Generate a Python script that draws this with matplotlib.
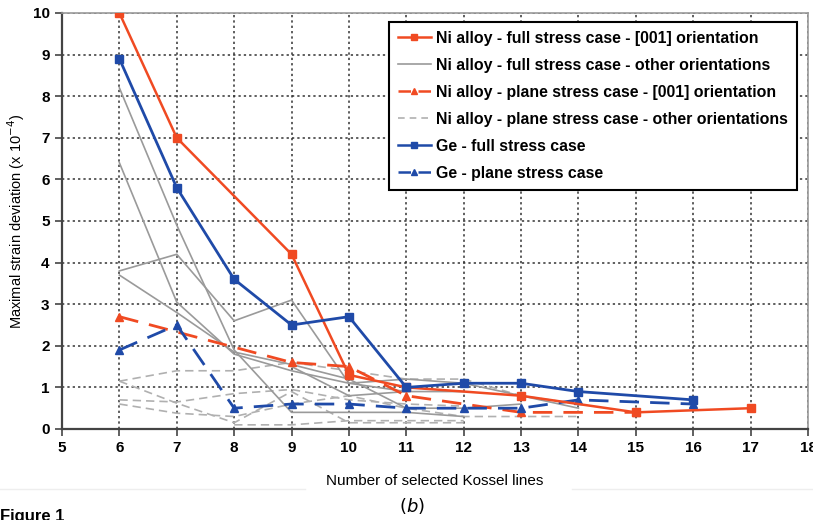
import numpy as np
import matplotlib
matplotlib.use("Agg")
import matplotlib.pyplot as plt
from matplotlib.lines import Line2D

plt.rcParams['font.family'] = ['Liberation Sans', 'DejaVu Sans']

# Ni alloy - full stress case - [001] orientation
ni_full_x = [6, 7, 9, 10, 11, 13, 15, 17]
ni_full_y = [10, 7, 4.2, 1.3, 1.0, 0.8, 0.4, 0.5]

# Ni alloy - plane stress case - [001] orientation
ni_plane_x = [6, 9, 10, 11, 13, 15]
ni_plane_y = [2.7, 1.6, 1.5, 0.8, 0.4, 0.4]

# Ge - full stress case
ge_full_x = [6, 7, 8, 9, 10, 11, 12, 13, 14, 16]
ge_full_y = [8.9, 5.8, 3.6, 2.5, 2.7, 1.0, 1.1, 1.1, 0.9, 0.7]

# Ge - plane stress case
ge_plane_x = [6, 7, 8, 9, 10, 11, 12, 13, 14, 16]
ge_plane_y = [1.9, 2.5, 0.5, 0.6, 0.6, 0.5, 0.5, 0.5, 0.7, 0.6]

# Ni alloy - full stress case - other orientations
other_full = [
    ([6, 7, 8, 9, 10, 11, 12], [8.2, 4.9, 1.9, 0.4, 0.4, 0.4, 0.3]),
    ([6, 7, 8, 9, 10, 11], [6.4, 3.05, 1.8, 1.4, 1.1, 0.9]),
    ([6, 7, 8, 9, 10, 11, 12, 13, 14], [3.8, 4.2, 2.6, 3.1, 1.1, 1.2, 1.1, 0.8, 0.5]),
    ([6, 7, 8, 9, 10, 11, 12, 13], [3.7, 2.8, 1.85, 1.55, 1.2, 0.5, 0.5, 0.6]),
    ([9, 10, 11, 12], [1.5, 0.8, 0.9, 0.9]),
]

# Ni alloy - plane stress case - other orientations
other_plane = [
    ([6, 7, 8, 9, 10, 11, 12], [1.15, 0.62, 0.15, 0.9, 0.15, 0.15, 0.15]),
    ([6, 7, 8, 9, 10, 11, 12, 13, 14], [1.15, 1.4, 1.4, 1.6, 1.4, 1.2, 1.2, 0.8, 0.6]),
    ([6, 7, 8, 9, 10, 11, 12], [0.7, 0.65, 0.85, 0.95, 0.7, 0.6, 0.55]),
    ([6, 7, 8, 9, 10, 11, 12, 13, 14], [0.6, 0.38, 0.3, 0.6, 0.8, 0.5, 0.3, 0.3, 0.3]),
    ([8, 9, 10, 11, 12], [0.1, 0.1, 0.2, 0.2, 0.2]),
]

red = '#f04a22'
blue = '#1f4aa8'
gray = '#9a9a9a'
lgray = '#b0b0b0'

fig = plt.figure(figsize=(8.13, 5.2), dpi=100)
ax = fig.add_axes([62/813, 1-429/520, (808-62)/813, (429-13)/520])

for xs, ys in other_plane:
    ax.plot(xs, ys, color=lgray, lw=1.2, dashes=(5, 3), zorder=2)
for xs, ys in other_full:
    ax.plot(xs, ys, color=gray, lw=1.2, zorder=2)

ax.plot(ni_plane_x, ni_plane_y, color=red, lw=2, dashes=(7, 4), marker='^', ms=6, zorder=3)
ax.plot(ge_plane_x, ge_plane_y, color=blue, lw=2, dashes=(7, 4), marker='^', ms=6, zorder=3)
ax.plot(ni_full_x, ni_full_y, color=red, lw=1.8, marker='s', ms=6, zorder=4)
ax.plot(ge_full_x, ge_full_y, color=blue, lw=2, marker='s', ms=6, zorder=4)

ax.set_xlim(5, 18)
ax.set_ylim(0, 10)
ax.set_xticks(range(5, 19))
ax.set_yticks(range(0, 11))
ax.grid(True, color='#333333', linestyle=(0, (1.5, 2)), linewidth=1.1)
ax.tick_params(direction='out', length=5, width=1.2, color='#444444', labelsize=11, pad=4)
for lab in ax.get_xticklabels() + ax.get_yticklabels():
    lab.set_fontweight('bold')

ax.spines['left'].set_color('#444444')
ax.spines['left'].set_linewidth(1.6)
ax.spines['bottom'].set_color('#444444')
ax.spines['bottom'].set_linewidth(1.6)
ax.spines['top'].set_color('#999999')
ax.spines['top'].set_linewidth(1.2)
ax.spines['right'].set_color('#999999')
ax.spines['right'].set_linewidth(1.2)

ax.set_xlabel('Number of selected Kossel lines', fontsize=11, labelpad=13)
ax.set_ylabel('Maximal strain deviation (x 10$^{-4}$)', fontsize=10.5, labelpad=4)

handles = [
    Line2D([], [], color=red, lw=1.8, marker='s', ms=5),
    Line2D([], [], color=gray, lw=1.2),
    Line2D([], [], color=red, lw=1.8, dashes=(5, 3), marker='^', ms=5),
    Line2D([], [], color=lgray, lw=1.2, dashes=(4, 3)),
    Line2D([], [], color=blue, lw=1.8, marker='s', ms=5),
    Line2D([], [], color=blue, lw=1.8, dashes=(5, 3), marker='^', ms=5),
]
labels = [
    'Ni alloy - full stress case - [001] orientation',
    'Ni alloy - full stress case - other orientations',
    'Ni alloy - plane stress case - [001] orientation',
    'Ni alloy - plane stress case - other orientations',
    'Ge - full stress case',
    'Ge - plane stress case',
]
leg = ax.legend(handles, labels, loc='upper right', bbox_to_anchor=(797/813, 1-22/520),
                bbox_transform=fig.transFigure, fancybox=False, framealpha=1,
                edgecolor='black', prop={'weight': 'bold', 'size': 11.4},
                handlelength=2.1, handletextpad=0.35, labelspacing=0.76,
                borderpad=0.55, borderaxespad=0, numpoints=1)
leg.get_frame().set_linewidth(1.5)

fig.text(412/813, 1-506/520, '$(b)$', ha='center', va='center', fontsize=13,
         family='DejaVu Serif')
fig.text(0.0, 1-509/520, 'Figure 1', ha='left', va='top', fontsize=12, fontweight='bold')
fig.add_artist(Line2D([0, 305/813], [1-489/520]*2, color='#eeeeee', lw=1))
fig.add_artist(Line2D([572/813, 1], [1-489/520]*2, color='#eeeeee', lw=1))

fig.savefig('out.png', dpi=100)
